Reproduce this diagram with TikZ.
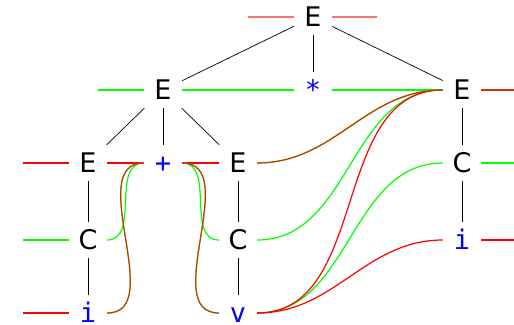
\documentclass[tikz,border=0pt]{standalone}
\usepackage{fontspec}
\setmainfont{DejaVu Sans}
\newfontfamily\tokfont{DejaVu Sans Mono}
\definecolor{lgreen}{RGB}{0,255,0}
\begin{document}
\begin{tikzpicture}[x=1pt,y=-1pt,
  every node/.style={inner sep=0pt, minimum width=38pt, minimum height=36pt,
    text height=19.5pt, text depth=0pt, font=\fontsize{27}{27}\selectfont},
  nt/.style={text=black},
  tok/.style={text=blue, font=\fontsize{27}{27}\selectfont\tokfont},
  tree/.style={draw=black, line width=0.7pt},
  gline/.style={draw=lgreen, line width=1.2pt},
  rline/.style={draw=red, line width=1.2pt},
  pline/.style={draw=red, draw opacity=0.55, line width=1.3pt},
  bline/.style={draw=red, draw opacity=0.8, line width=1.2pt,
    preaction={draw=lgreen, draw opacity=1, line width=1.2pt}}]
\useasboundingbox (0,0) rectangle (514,324);
% nodes
\node[nt] (E0) at (313,17) {E};
\node[nt] (E1) at (163,90) {E};
\node[tok] (mul) at (313,90) {*};
\node[nt] (E2) at (462,90) {E};
\node[nt] (E3) at (88,163) {E};
\node[tok] (plus) at (163,163) {+};
\node[nt] (E4) at (238,163) {E};
\node[nt] (C7) at (462,163) {C};
\node[nt] (C5) at (88,240) {C};
\node[nt] (C6) at (238,240) {C};
\node[tok] (i2) at (462,240) {i};
\node[tok] (i1) at (88,313) {i};
\node[tok] (v) at (238,313) {v};
% free ends
\coordinate (l1) at (248,17);
\coordinate (r1) at (377,17);
\coordinate (l2) at (98,90);
\coordinate (r2) at (514,90);
\coordinate (l3) at (23,163);
\coordinate (r3) at (514,163);
\coordinate (l4) at (23,240);
\coordinate (r4) at (514,240);
\coordinate (l5) at (23,313);
% tree
\draw[tree] (E0) -- (E1);
\draw[tree] (E0) -- (mul);
\draw[tree] (E0) -- (E2);
\draw[tree] (E1) -- (E3);
\draw[tree] (E1) -- (plus);
\draw[tree] (E1) -- (E4);
\draw[tree] (E3) -- (C5);
\draw[tree] (C5) -- (i1);
\draw[tree] (E4) -- (C6);
\draw[tree] (C6) -- (v);
\draw[tree] (E2) -- (C7);
\draw[tree] (C7) -- (i2);
% green lines
\draw[gline] (l2) -- (E1.west);
\draw[gline] (E1.east) -- (mul.west);
\draw[gline] (mul.east) -- (E2.west);
\draw[gline] (C7.east) -- (r3);
\draw[gline] (l4) -- (C5.west);
\draw[gline] (plus.west) to[out=180,in=0] (C5.east);
\draw[gline] (plus.east) to[out=0,in=180] (C6.west);
\draw[gline] (C6.east) to[out=0,in=180] (E2.west);
\draw[gline] (v.east) to[out=0,in=180] (C7.west);
% red lines
\draw[pline] (l1) -- (E0.west);
\draw[pline] (E0.east) -- (r1);
\draw[rline] (l3) -- (E3.west);
\draw[rline] (E3.east) -- (plus.west);
\draw[rline] (plus.east) -- (E4.west);
\draw[rline] (i2.east) -- (r4);
\draw[rline] (l5) -- (i1.west);
\draw[rline] (v.east) to[out=0,in=180] (E2.west);
\draw[rline] (v.east) to[out=0,in=180] (i2.west);
% red over green
\draw[bline] (E2.east) -- (r2);
\draw[bline] (plus.west) to[out=180,in=0] (i1.east);
\draw[bline] (plus.east) to[out=0,in=180] (v.west);
\draw[bline] (E4.east) to[out=0,in=180] (E2.west);
\end{tikzpicture}
\end{document}
